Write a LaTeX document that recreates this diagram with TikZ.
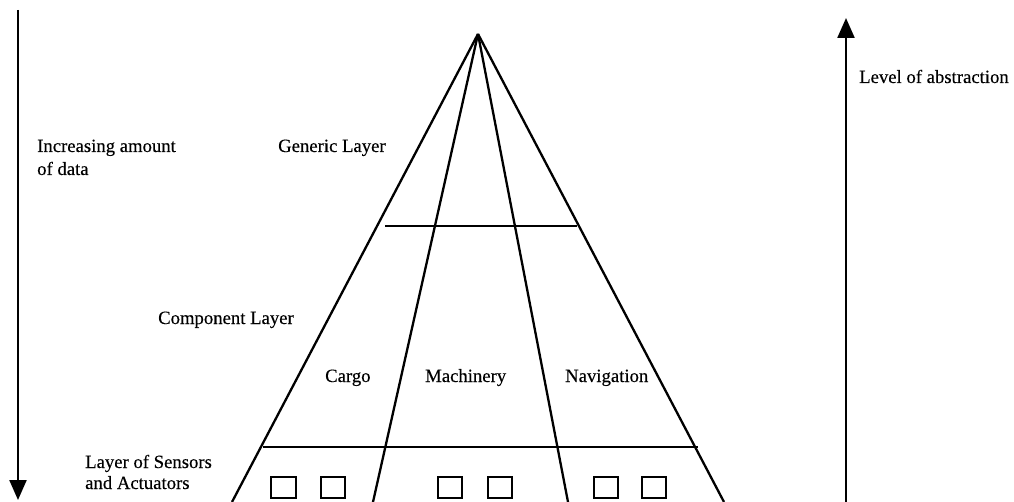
\documentclass[tikz,border=0pt]{standalone}
\usepackage{fontspec}
\setmainfont{Liberation Serif}
\newfontfamily\labelfont[FakeBold=0.3]{Liberation Serif}
\usetikzlibrary{arrows.meta}
\begin{document}
\begin{tikzpicture}[x=1pt,y=-1pt,
  edge/.style={line width=2.3pt},
  lbl/.style={anchor=base west, inner sep=0pt, font=\labelfont\fontsize{18.7}{22.5}\selectfont},
  sensor/.style={draw, line width=2.3pt, minimum width=24.5pt, minimum height=20.5pt, inner sep=0pt},
  axis/.style={line width=2.3pt, -{Triangle[length=20pt,width=17pt]}}]
\useasboundingbox (0,0) rectangle (1014,502);

% pyramid corners
\coordinate (apex) at (478,34);
\coordinate (bl) at (232,502);
\coordinate (br) at (724,502);
\coordinate (il) at (373,502);
\coordinate (ir) at (568,502);

% layer separators
\coordinate (u1) at (385,226);
\coordinate (u2) at (577,226);
\coordinate (l1) at (263,447);
\coordinate (l2) at (698,447);

\draw[edge] (apex) -- (bl);
\draw[edge] (apex) -- (br);
\draw[edge] (apex) -- (il);
\draw[edge] (apex) -- (ir);
\draw[edge] (u1) -- (u2);
\draw[edge] (l1) -- (l2);

% sensors and actuators
\node[sensor] (s1) at (283.5,487.5) {};
\node[sensor] (s2) at (333,487.5) {};
\node[sensor] (s3) at (450,487.5) {};
\node[sensor] (s4) at (500,487.5) {};
\node[sensor] (s5) at (606,487.5) {};
\node[sensor] (s6) at (654,487.5) {};

% side axes
\coordinate (dtop) at (18,10);
\coordinate (dbot) at (18,500);
\draw[axis] (dtop) -- (dbot);
\coordinate (abot) at (846,502);
\coordinate (atop) at (846,18);
\draw[axis] (abot) -- (atop);

% labels
\node[lbl] (abs) at (859,83) {Level of abstraction};
\node[lbl] (inc1) at (37,152) {Increasing amount};
\node[lbl] (inc2) at (37,175) {of data};
\node[lbl] (gen) at (278,152) {Generic Layer};
\node[lbl] (comp) at (158,324) {Component Layer};
\node[lbl] (cargo) at (325,382) {Cargo};
\node[lbl] (mach) at (425,382) {Machinery};
\node[lbl] (nav) at (565,382) {Navigation};
\node[lbl] (sen1) at (85,468) {Layer of Sensors};
\node[lbl] (sen2) at (85,489) {and Actuators};
\end{tikzpicture}
\end{document}
